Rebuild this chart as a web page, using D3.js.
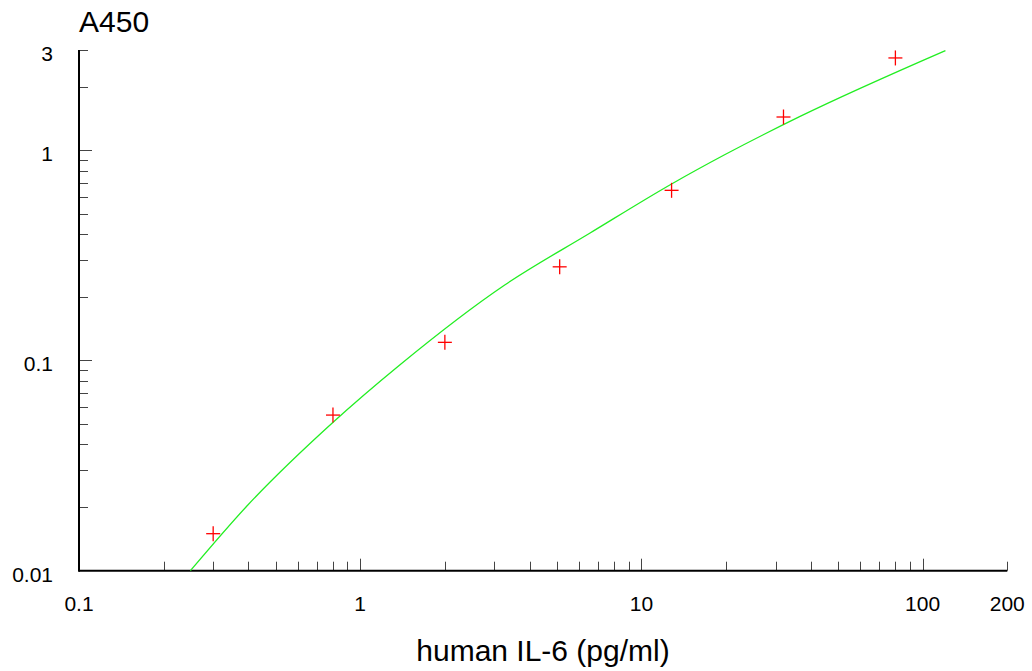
<!DOCTYPE html>
<html>
<head>
<meta charset="utf-8">
<script src="https://cdn.jsdelivr.net/npm/d3@7"></script>
<style>
  body { margin: 0; background: #fff; }
  text { font-family: "Liberation Sans", Arial, sans-serif; fill: #000; }
</style>
</head>
<body>
<div id="chart"></div>
<script>
// standard points: concentration (pg/ml) and A450
var conc = [0.3, 0.8, 2, 5.12, 12.8, 32, 80];
var a450 = [0.015, 0.055, 0.122, 0.279, 0.645, 1.44, 2.75];

// fitted curve
var curveX = [0.249, 0.394, 0.799, 1.382, 3.265, 6.546, 12.8, 19.76, 36.5, 120.5];
var curveY = [0.01, 0.0202, 0.0507, 0.0952, 0.2287, 0.403, 0.6915, 0.952, 1.445, 2.98];

var xTickLabels = [0.1, 1, 10, 100, 200];
var yTickLabels = [0.01, 0.1, 1, 3];
var xMajor = [1, 10, 100];
var xMinor = [0.2, 0.3, 0.4, 0.5, 0.6, 0.7, 0.8, 0.9, 2, 3, 4, 5, 6, 7, 8, 9,
              20, 30, 40, 50, 60, 70, 80, 90, 200];
var yMajor = [0.1, 1];
var yMinor = [0.02, 0.03, 0.04, 0.05, 0.06, 0.07, 0.08, 0.09,
              0.2, 0.3, 0.4, 0.5, 0.6, 0.7, 0.8, 0.9, 2, 3];

(function(){
  var width = 1032,
      height = 671;

  var svg = d3.select("#chart")
    .append("svg")
    .attr("width", width)
    .attr("height", height);

  var x = d3.scaleLog().domain([0.1, 200]).range([79, 1007.3]);
  var y = d3.scaleLog().domain([0.01, 3]).range([570.7, 50]);

  var x0 = x.range()[0],
      y0 = y.range()[0];

  // ticks point inward, majors a bit longer
  svg.selectAll(".xtick")
    .data(xMinor.map(function(v) { return {v: v, len: 9}; })
      .concat(xMajor.map(function(v) { return {v: v, len: 12}; })))
    .enter().append("line")
    .attr("class", "xtick")
    .attr("x1", function(d) { return Math.round(x(d.v)) + 0.5; })
    .attr("x2", function(d) { return Math.round(x(d.v)) + 0.5; })
    .attr("y1", y0)
    .attr("y2", function(d) { return y0 - d.len; })
    .attr("stroke", "#444")
    .attr("stroke-width", 1);

  svg.selectAll(".ytick")
    .data(yMinor.map(function(v) { return {v: v, len: 9}; })
      .concat(yMajor.map(function(v) { return {v: v, len: 13}; })))
    .enter().append("line")
    .attr("class", "ytick")
    .attr("y1", function(d) { return Math.round(y(d.v)) + 0.5; })
    .attr("y2", function(d) { return Math.round(y(d.v)) + 0.5; })
    .attr("x1", x0)
    .attr("x2", function(d) { return x0 + d.len; })
    .attr("stroke", "#444")
    .attr("stroke-width", 1);

  // axis lines
  svg.append("line")
    .attr("x1", x0).attr("x2", x.range()[1])
    .attr("y1", y0).attr("y2", y0)
    .attr("stroke", "#000").attr("stroke-width", 2);

  svg.append("line")
    .attr("x1", x0).attr("x2", x0)
    .attr("y1", y0 + 1).attr("y2", y.range()[1])
    .attr("stroke", "#000").attr("stroke-width", 2);

  // tick labels
  svg.selectAll(".xlab")
    .data(xTickLabels)
    .enter().append("text")
    .attr("class", "xlab")
    .attr("x", function(d) { return x(d); })
    .attr("y", y0 + 40)
    .attr("text-anchor", "middle")
    .style("font-size", "21px")
    .text(function(d) { return d; });

  svg.selectAll(".ylab")
    .data(yTickLabels)
    .enter().append("text")
    .attr("class", "ylab")
    .attr("x", 53)
    .attr("y", function(d) { return y(d) + 11; })
    .attr("text-anchor", "end")
    .style("font-size", "21px")
    .text(function(d) { return d; });

  // titles
  svg.append("text")
    .attr("x", 79)
    .attr("y", 32)
    .style("font-size", "30px")
    .text("A450");

  svg.append("text")
    .attr("x", 543)
    .attr("y", 661)
    .attr("text-anchor", "middle")
    .style("font-size", "30px")
    .text("human IL-6 (pg/ml)");

  // fitted curve
  var line = d3.line()
    .x(function(d) { return x(d[0]); })
    .y(function(d) { return y(d[1]); })
    .curve(d3.curveMonotoneX);

  svg.append("path")
    .datum(d3.zip(curveX, curveY))
    .attr("d", line)
    .attr("fill", "none")
    .attr("stroke", "#22ee22")
    .attr("stroke-width", 1.3);

  // crosses for the standards
  var pts = svg.selectAll(".pt")
    .data(d3.zip(conc, a450))
    .enter().append("g")
    .attr("class", "pt")
    .attr("transform", function(d) {
      return "translate(" + x(d[0]) + "," + y(d[1]) + ")";
    });

  pts.append("line")
    .attr("x1", -7).attr("x2", 7).attr("y1", 0).attr("y2", 0)
    .attr("stroke", "#ff0000").attr("stroke-width", 1.3);
  pts.append("line")
    .attr("x1", 0).attr("x2", 0).attr("y1", -7.5).attr("y2", 7.5)
    .attr("stroke", "#ff0000").attr("stroke-width", 1.3);
})();
</script>
</body>
</html>
